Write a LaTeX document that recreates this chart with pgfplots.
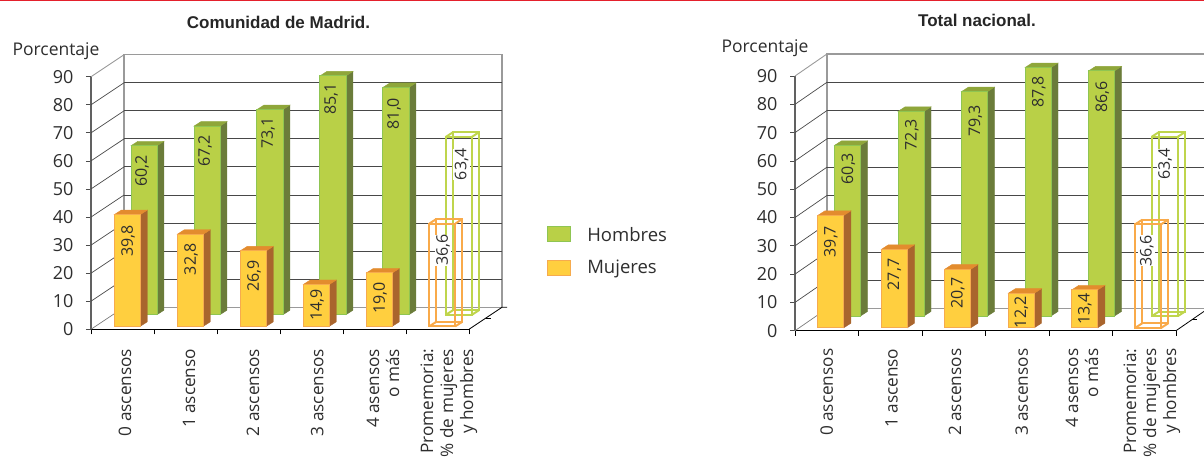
\documentclass[border=0pt]{standalone}
\usepackage{pgfplots}
\pgfplotsset{compat=1.18}
\usepackage{pgfplotstable}
\usepackage{fontspec}
\setmainfont{Open Sans}
\newfontfamily\arialfont{Liberation Sans}
\definecolor{hfill}{HTML}{B9D047}
\definecolor{hedge}{HTML}{8FC552}
\definecolor{hside}{HTML}{6B7C3A}
\definecolor{htop}{HTML}{8FA63A}
\definecolor{hwire}{HTML}{BFD54C}
\definecolor{mfill}{HTML}{FFCF3F}
\definecolor{medge}{HTML}{F6AB4E}
\definecolor{mside}{HTML}{A9652D}
\definecolor{mtop}{HTML}{E38C2E}
\definecolor{mwire}{HTML}{F9AA4A}
\definecolor{txt}{HTML}{2E2E2E}
\definecolor{gridc}{HTML}{484848}
\definecolor{wallc}{HTML}{9A9A9A}
\definecolor{topred}{HTML}{E4202C}

% x category, value, bar-centre shift (pt), base lift (pt), side colour, top colour
\newcommand\solidfaces[6]{%
  \def\XR{#1+(#3+13)/\sx}\def\XRd{#1+(#3+20)/\sx}%
  \def\XL{#1+(#3-13)/\sx}\def\XLd{#1+(#3-6)/\sx}%
  \def\YB{#4/\sy}\def\YBd{(#4+4.5)/\sy}%
  \def\YT{#2+#4/\sy}\def\YTd{#2+(#4+4.5)/\sy}%
  \addplot[forget plot,fill=#5,draw=#5,line width=.4pt] coordinates {({\XR},{\YB}) ({\XRd},{\YBd}) ({\XRd},{\YTd}) ({\XR},{\YT})} --cycle;
  \addplot[forget plot,fill=#6,draw=#6,line width=.4pt] coordinates {({\XL},{\YT}) ({\XR},{\YT}) ({\XRd},{\YTd}) ({\XLd},{\YTd})} --cycle;
}
% hollow box: x category, value, shift, lift, colour
\newcommand\wirefaces[5]{%
  \def\XR{#1+(#3+13)/\sx}\def\XRd{#1+(#3+20)/\sx}%
  \def\XL{#1+(#3-13)/\sx}\def\XLd{#1+(#3-6)/\sx}%
  \def\YB{#4/\sy}\def\YBd{(#4+4.5)/\sy}%
  \def\YT{#2+#4/\sy}\def\YTd{#2+(#4+4.5)/\sy}%
  \addplot[forget plot,draw=#5,line width=2pt] coordinates {({\XLd},{\YBd}) ({\XRd},{\YBd}) ({\XRd},{\YTd}) ({\XLd},{\YTd})} --cycle;
  \addplot[forget plot,draw=#5,line width=2pt] coordinates {({\XL},{\YB}) ({\XLd},{\YBd})};
  \addplot[forget plot,draw=#5,line width=2pt] coordinates {({\XR},{\YB}) ({\XRd},{\YBd})};
  \addplot[forget plot,draw=#5,line width=2pt] coordinates {({\XL},{\YT}) ({\XLd},{\YTd})};
  \addplot[forget plot,draw=#5,line width=2pt] coordinates {({\XR},{\YT}) ({\XRd},{\YTd})};
}
% back wall, diagonals and floor, all in axis units
\newcommand\backwall{%
  \addplot[forget plot,draw=wallc,line width=1.3pt] coordinates {(\dx,\dy) (\dx,90+\dy) (6+\dx,90+\dy) (6+\dx,\dy)};
  \addplot[forget plot,draw=wallc,line width=1.3pt] coordinates {(\dx,\dy) (6+\dx,\dy)};
  \addplot[forget plot,draw=wallc,line width=.9pt] coordinates {(0,90) (\dx,90+\dy)};
  \addplot[forget plot,draw=wallc!80!black,line width=.7pt] coordinates {(0,0) (\dx,\dy)};
  \pgfplotsinvokeforeach{10,20,30,40,50,60,70,80}{%
    \addplot[forget plot,draw=gridc,line width=1pt] coordinates {(\dx,##1+\dy) (6+\dx,##1+\dy)};
    \addplot[forget plot,draw=gridc,line width=.7pt] coordinates {(0,##1) (\dx,##1+\dy)};
  }
  \addplot[forget plot,draw=black,line width=.8pt] coordinates {(6,0) (6+\dx,\dy) (6.08+\dx,\dy)};
  \addplot[forget plot,draw=black,line width=.7pt] coordinates {(6+\dx*0.5,\dy*0.5) (6.08+\dx*0.5,\dy*0.5)};
}
\pgfplotsset{
  chart/.style={
    scale only axis, clip=false, enlargelimits=false,
    xmin=0,xmax=6,ymin=0,ymax=90,
    axis lines=left,
    x axis line style={-,draw=black,line width=.9pt},
    y axis line style={-,draw=black!62,line width=1.3pt},
    ytick={0,10,...,90},
    ytick style={draw=black!70,line width=.8pt},
    major tick length=5pt,
    tick align=outside,
    xtick style={draw=none},
    /pgf/number format/assume math mode=true,
    tick label style={font=\fontsize{18}{20}\selectfont,text=txt},
    yticklabel style={xshift=-9pt},
    xticklabel style={rotate=90,anchor=east,align=right,font=\fontsize{17.2}{20}\selectfont,text=txt},
    extra x ticks={0,1,2,3,4,5,6},
    extra x tick labels={},
    extra x tick style={grid=none,major tick length=5pt,xtick style={draw=black,line width=.8pt},tick style={draw=black,line width=.8pt}},
    title style={font=\arialfont\fontsize{17}{19}\selectfont\bfseries,text=black!85,anchor=center},
    no marks,
    xticklabels={0 ascensos,1 ascenso,2 ascensos,3 ascensos,{4 asensos\\o más},{Promemoria:\\\% de mujeres\\y hombres}},
  },
  valbar/.style n args={2}{
    ybar, bar width=26pt,
    nodes near coords={\pgfmathprintnumber[fixed,fixed zerofill,precision=1,use comma,assume math mode=true]{\pgfplotspointmeta}},
    point meta=y,
    visualization depends on={\thisrow{#1}\as\gapv},
    every node near coord/.append style={xshift=#2,yshift=-\gapv pt,rotate=90,anchor=east,inner sep=0pt,
      font=\fontsize{16}{16}\selectfont,text=txt},
  },
  wirebar/.style n args={2}{
    valbar={#1}{#2},
    every node near coord/.append style={fill=white,inner xsep=0pt,inner ysep=1.5pt},
    fill=none, line width=2pt,
  },
}
\pgfplotstableread{
x    h    hgap  m    mgap
0.5  60.2 9     39.8 10
1.5  67.2 9     32.8 9
2.5  73.1 7     26.9 9
3.5  85.1 7     14.9 4
4.5  81.0 10    19.0 9
}\madrid
\pgfplotstableread{
x    h    hgap  m    mgap
5.5  63.4 11    36.6 10
}\madridwire
\pgfplotstableread{
x    h    hgap  m    mgap
0.5  60.3 7     39.7 10
1.5  72.3 7     27.7 9
2.5  79.3 13    20.7 8
3.5  87.8 8     12.2 3
4.5  86.6 10    13.4 3
}\nacional
\pgfplotstableread{
x    h    hgap  m    mgap
5.5  63.4 11    36.6 10
}\nacionalwire

\begin{document}
\begin{tikzpicture}[x=1pt,y=1pt]
\useasboundingbox (0,0) rectangle (1204,456);
\fill[topred] (0,454.8) rectangle (1204,456);
\node[anchor=center,font=\fontsize{17.5}{20}\selectfont,text=txt] at (56,405) {Porcentaje};
\node[anchor=center,font=\fontsize{17.5}{20}\selectfont,text=txt] at (765,408) {Porcentaje};

% ---------- Comunidad de Madrid
\def\sx{63}\def\sy{2.807}\def\dx{0.524}\def\dy{7.84}
\begin{axis}[chart,
  at={(91pt,126.7pt)},anchor=south west,width=378pt,height=252.6pt,
  title={Comunidad de Madrid.},title style={at={(0.496,1.193)}},
  xtick={0.54,1.555,2.57,3.59,4.635,5.68},
  xticklabel style={xshift=-11pt},
  legend style={at={(1.206,0.409)},anchor=north west,draw=none,fill=none,inner sep=0pt,outer sep=0pt,
    font=\fontsize{18.5}{20}\selectfont,text=txt,row sep=3pt,
    nodes={inner xsep=0pt,inner ysep=0pt,text height=13pt,text depth=4pt},/tikz/column 1/.style={column sep=16pt}},
  legend cell align=left,
]
\backwall
\solidfaces{0.5}{60.2}{21.5}{14.6}{hside}{htop}
\solidfaces{1.5}{67.2}{21.5}{14.6}{hside}{htop}
\solidfaces{2.5}{73.1}{21.5}{14.6}{hside}{htop}
\solidfaces{3.5}{85.1}{21.5}{14.6}{hside}{htop}
\solidfaces{4.5}{81.0}{21.5}{14.6}{hside}{htop}
\addplot[valbar={hgap}{19.5pt},bar shift=21.5pt,yshift=14.6pt,draw=hedge,fill=hfill,line width=1pt,
  legend image code/.code={\draw[draw=hedge,fill=hfill,line width=1pt] (0pt,-7.5pt) rectangle (23.4pt,7.5pt);}]
  table[x=x,y=h]{\madrid};
\addlegendentry{\raisebox{12pt}{Hombres}}
\wirefaces{5.5}{63.4}{21.5}{14.6}{hwire}
\addplot[forget plot,wirebar={hgap}{24.2pt},bar shift=21.5pt,yshift=14.6pt,draw=hwire] table[x=x,y=h]{\madridwire};
\solidfaces{0.5}{39.8}{4.8}{3}{mside}{mtop}
\solidfaces{1.5}{32.8}{4.8}{3}{mside}{mtop}
\solidfaces{2.5}{26.9}{4.8}{3}{mside}{mtop}
\solidfaces{3.5}{14.9}{4.8}{3}{mside}{mtop}
\solidfaces{4.5}{19.0}{4.8}{3}{mside}{mtop}
\addplot[valbar={mgap}{5.5pt},bar shift=4.8pt,yshift=3pt,draw=medge,fill=mfill,line width=1pt,
  legend image code/.code={\draw[draw=medge,fill=mfill,line width=1pt] (0pt,-7.5pt) rectangle (23.4pt,7.5pt);}]
  table[x=x,y=m]{\madrid};
\addlegendentry{\raisebox{2pt}{Mujeres}}
\wirefaces{5.5}{36.6}{4.8}{3}{mwire}
\addplot[forget plot,wirebar={mgap}{5.5pt},bar shift=4.8pt,yshift=3pt,draw=mwire] table[x=x,y=m]{\madridwire};
\end{axis}

% ---------- Total nacional
\def\sx{63.5}\def\sy{2.83}\def\dx{0.504}\def\dy{7.8}
\begin{axis}[chart,
  at={(795pt,125.3pt)},anchor=south west,width=381pt,height=254.7pt,
  title={Total nacional.},title style={at={(0.4777,1.193)}},
  xtick={0.5,1.52,2.52,3.57,4.52,5.62},
  xticklabel style={xshift=-9.4pt},
]
\backwall
\solidfaces{0.5}{60.3}{20.75}{14.7}{hside}{htop}
\solidfaces{1.5}{72.3}{20.75}{14.7}{hside}{htop}
\solidfaces{2.5}{79.3}{20.75}{14.7}{hside}{htop}
\solidfaces{3.5}{87.8}{20.75}{14.7}{hside}{htop}
\solidfaces{4.5}{86.6}{20.75}{14.7}{hside}{htop}
\addplot[forget plot,valbar={hgap}{21.5pt},bar shift=20.75pt,yshift=14.7pt,draw=hedge,fill=hfill,line width=1pt]
  table[x=x,y=h]{\nacional};
\wirefaces{5.5}{63.4}{20.75}{14.7}{hwire}
\addplot[forget plot,wirebar={hgap}{20.75pt},bar shift=20.75pt,yshift=14.7pt,draw=hwire] table[x=x,y=h]{\nacionalwire};
\solidfaces{0.5}{39.7}{4.15}{3}{mside}{mtop}
\solidfaces{1.5}{27.7}{4.15}{3}{mside}{mtop}
\solidfaces{2.5}{20.7}{4.15}{3}{mside}{mtop}
\solidfaces{3.5}{12.2}{4.15}{3}{mside}{mtop}
\solidfaces{4.5}{13.4}{4.15}{3}{mside}{mtop}
\addplot[forget plot,valbar={mgap}{4pt},bar shift=4.15pt,yshift=3pt,draw=medge,fill=mfill,line width=1pt]
  table[x=x,y=m]{\nacional};
\wirefaces{5.5}{36.6}{4.15}{3}{mwire}
\addplot[forget plot,wirebar={mgap}{2.5pt},bar shift=4.15pt,yshift=3pt,draw=mwire] table[x=x,y=m]{\nacionalwire};
\end{axis}
\end{tikzpicture}
\end{document}
